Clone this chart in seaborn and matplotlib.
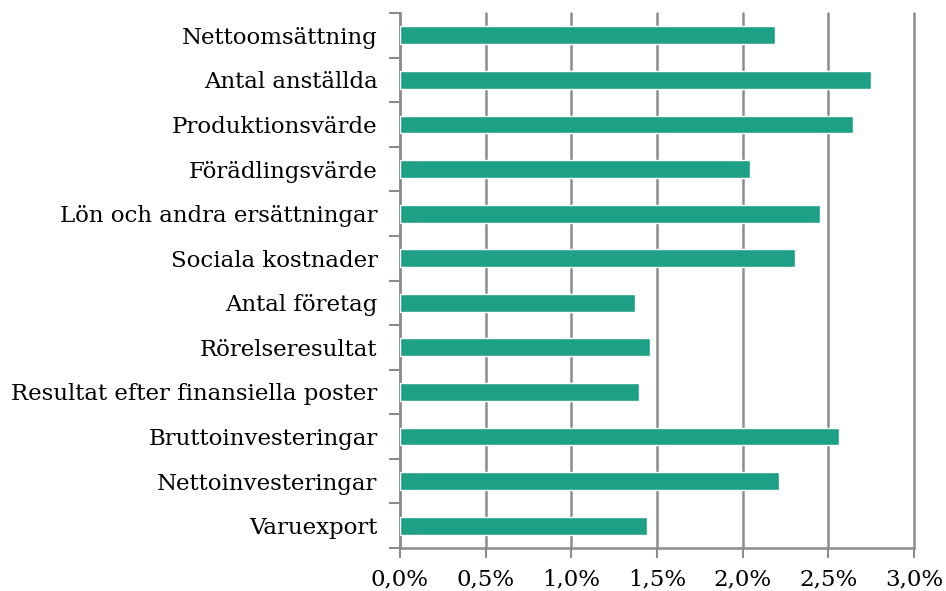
import numpy as np
import pandas as pd
import matplotlib.pyplot as plt
import seaborn as sns
from matplotlib.ticker import FuncFormatter, FixedLocator

# -----------------------------
# Data
# -----------------------------
categories = [
    "Nettoomsättning",
    "Antal anställda",
    "Produktionsvärde",
    "Förädlingsvärde",
    "Lön och andra ersättningar",
    "Sociala kostnader",
    "Antal företag",
    "Rörelseresultat",
    "Resultat efter finansiella poster",
    "Bruttoinvesteringar",
    "Nettoinvesteringar",
    "Varuexport",
]
values = [2.19, 2.75, 2.645, 2.04, 2.45, 2.305, 1.37, 1.46, 1.395, 2.56, 2.21, 1.44]
x_ticks = [0.0, 0.5, 1.0, 1.5, 2.0, 2.5, 3.0]

df = pd.DataFrame({"Kategori": categories, "Andel": values})

# -----------------------------
# Plot
# -----------------------------
sns.set_style("white")
plt.rcParams["font.family"] = ["DejaVu Serif"]
plt.rcParams["text.color"] = "black"
plt.rcParams["xtick.color"] = "black"
plt.rcParams["ytick.color"] = "black"

fig = plt.figure(figsize=(9.46, 5.91), dpi=100)
ax = fig.add_axes([0.4228, 0.0728, 0.5434, 0.905])

grid_col = "#8c8c8c"
sns.barplot(data=df, y="Kategori", x="Andel", orient="h", color="#1da085",
            saturation=1, width=0.4, ax=ax, zorder=3)

ax.set_xlim(0, 3.0)
ax.set_ylim(len(categories) - 0.5, -0.5)
ax.xaxis.set_major_locator(FixedLocator(x_ticks))
ax.xaxis.set_major_formatter(FuncFormatter(lambda v, p: f"{v:.1f}%".replace(".", ",")))
ax.grid(axis="x", color=grid_col, linewidth=1.8, zorder=0)
ax.set_axisbelow(True)
for gl in ax.get_xgridlines():
    gl.set_clip_on(False)

for s in ["top", "right"]:
    ax.spines[s].set_visible(False)
for s in ["left", "bottom"]:
    ax.spines[s].set_color(grid_col)
    ax.spines[s].set_linewidth(1.8)

# y ticks at category boundaries
ax.set_yticks(np.arange(-0.5, len(categories), 1.0), minor=True)
ax.tick_params(axis="y", which="both", left=True)
ax.tick_params(axis="y", which="major", length=0, labelsize=16.5, pad=16)
ax.tick_params(axis="y", which="minor", length=8, width=1.5, color=grid_col, direction="out")
ax.tick_params(axis="x", which="major", bottom=True, length=7, width=1.5, color=grid_col,
               labelcolor="black", direction="out", labelsize=16.5, pad=8)

ax.set_xlabel("")
ax.set_ylabel("")

plt.savefig("out.png", dpi=100)
